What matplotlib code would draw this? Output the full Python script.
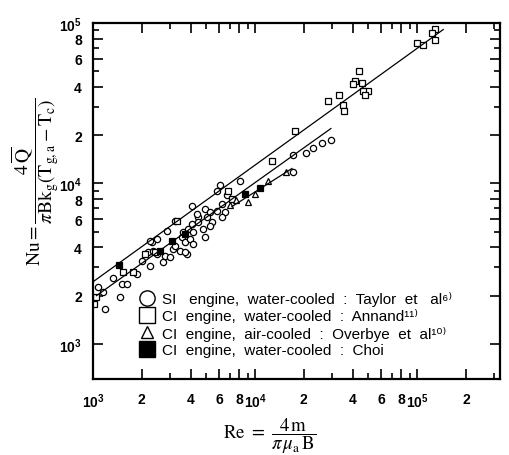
import matplotlib
matplotlib.use("Agg")
import matplotlib.pyplot as plt
from matplotlib.ticker import FixedLocator, FixedFormatter
from matplotlib.lines import Line2D

plt.rcParams["font.family"] = ["Liberation Sans", "DejaVu Sans"]
plt.rcParams["mathtext.fontset"] = "custom"
plt.rcParams["mathtext.rm"] = "Liberation Sans"
plt.rcParams["mathtext.bf"] = "Liberation Sans:bold"
plt.rcParams["mathtext.it"] = "Liberation Sans:italic"

# SI engine, water-cooled : Taylor et al
taylor_re = [1070, 1150, 1190, 1470, 1330, 1510, 1620, 1870, 2010, 2190, 2350, 2480,
             2250, 2310, 2480, 2700, 2780, 2990, 3120, 3210, 3440, 3800, 2860, 3210,
             3540, 3700, 3970, 4140, 3590, 3860, 4080, 4140, 4450, 4450, 4080, 4380,
             4910, 5050, 5270, 5430, 4770, 4910, 5270, 5830, 6080, 6710, 6250, 5830,
             6530, 6250, 8080, 17150, 20600, 22800, 25900, 29400, 17150, 2250, 3700]
taylor_nu = [2270, 2110, 1655, 1970, 2590, 2370, 2370, 2740, 3300, 3760, 3810, 3650,
             3070, 4340, 4530, 3260, 3550, 3500, 3920, 4100, 3810, 3650, 5090, 5870,
             4660, 4340, 4530, 4220, 5010, 5230, 5620, 5010, 6220, 5790, 7280, 6490,
             6980, 6220, 6680, 5790, 5230, 4660, 5470, 9040, 9720, 8420, 7500, 6780,
             6680, 6220, 10290, 14950, 15400, 16550, 17780, 18570, 11720, 4400, 3760]

# CI engine, water-cooled : Annand
annand_re = [1044, 1010, 1770, 1530, 2090, 3300, 6810, 7210, 12730, 17640, 28170, 32930,
             34860, 35360, 43750, 41330, 40180, 45670, 49710, 46320, 47650, 99650,
             108500, 128700, 123400, 128700, 2410]
annand_nu = [1970, 1780, 2820, 2820, 3650, 5870, 9040, 8060, 13730, 21150, 32540, 35460,
             30730, 28180, 50110, 43430, 41570, 42170, 37580, 37580, 35460, 74990,
             72820, 91730, 86600, 78310, 3760]

# CI engine, air-cooled : Overbye et al
overbye_re = [7630, 9050, 12020, 15520, 9990, 7000]
overbye_nu = [7940, 7720, 10290, 11720, 8540, 7390]

# CI engine, water-cooled : Choi
choi_re = [1450, 2590, 3700, 3070, 10730, 8670]
choi_nu = [3120, 3810, 4870, 4400, 9310, 8540]

# correlation lines
upper_re = [1000, 145000]
upper_nu = [2440, 91000]
lower_re = [1050, 29400]
lower_nu = [2000, 22000]
short_re = [7200, 16900]
short_nu = [7180, 12400]

x_ticks = [1e3, 2e3, 4e3, 6e3, 8e3, 1e4, 2e4, 4e4, 6e4, 8e4, 1e5, 2e5]
x_labels = [r"$\mathbf{10^{3}}$", "2", "4", "6", "8", r"$\mathbf{10^{4}}$",
            "2", "4", "6", "8", r"$\mathbf{10^{5}}$", "2"]
y_ticks = [1e3, 2e3, 4e3, 6e3, 8e3, 1e4, 2e4, 4e4, 6e4, 8e4, 1e5]
y_labels = [r"$\mathbf{10^{3}}$", "2", "4", "6", "8", r"$\mathbf{10^{4}}$",
            "2", "4", "6", "8", r"$\mathbf{10^{5}}$"]
minor_x = [3e3, 5e3, 7e3, 9e3, 3e4, 5e4, 7e4, 9e4, 3e5]
minor_y = [3e3, 5e3, 7e3, 9e3, 3e4, 5e4, 7e4, 9e4]

fig = plt.figure(figsize=(5.1, 4.56), dpi=100)
ax = fig.add_axes([93 / 510, 1 - 380 / 456, 407 / 510, 356 / 456])
ax.set_xscale("log")
ax.set_yscale("log")

pt = dict(ls="none", mec="black", mew=0.9, ms=4.5)
ax.plot(taylor_re, taylor_nu, marker="o", mfc="white", **pt)
ax.plot(annand_re, annand_nu, marker="s", mfc="white", **pt)
ax.plot(overbye_re, overbye_nu, marker="^", mfc="white", **pt)
ax.plot(choi_re, choi_nu, marker="s", mfc="black", **pt)

for xs, ys in [(upper_re, upper_nu), (lower_re, lower_nu), (short_re, short_nu)]:
    ax.plot(xs, ys, color="black", lw=0.9)

ax.set_xlim(1e3, 3.25e5)
ax.set_ylim(605, 1e5)

ax.xaxis.set_major_locator(FixedLocator(x_ticks))
ax.xaxis.set_major_formatter(FixedFormatter(x_labels))
ax.yaxis.set_major_locator(FixedLocator(y_ticks))
ax.yaxis.set_major_formatter(FixedFormatter(y_labels))
ax.xaxis.set_minor_locator(FixedLocator(minor_x))
ax.yaxis.set_minor_locator(FixedLocator(minor_y))
ax.xaxis.set_minor_formatter(FixedFormatter([]))
ax.yaxis.set_minor_formatter(FixedFormatter([]))
ax.tick_params(which="both", direction="in", top=True, right=True, width=1.2)
ax.tick_params(which="major", length=7)
ax.tick_params(which="minor", length=4)
ax.tick_params(axis="x", pad=9)
ax.tick_params(axis="y", pad=8)
for lab in ax.get_xticklabels() + ax.get_yticklabels():
    lab.set_fontsize(10)
    lab.set_fontweight("bold")
for sp in ax.spines.values():
    sp.set_linewidth(1.6)

handles = [
    Line2D([], [], ls="none", marker="o", ms=11, mfc="white", mec="black", mew=1.0),
    Line2D([], [], ls="none", marker="s", ms=11, mfc="white", mec="black", mew=1.0),
    Line2D([], [], ls="none", marker="^", ms=8, mfc="white", mec="black", mew=1.0),
    Line2D([], [], ls="none", marker="s", ms=11, mfc="black", mec="black", mew=1.0),
]
labels = [
    "SI   engine,  water-cooled  :  Taylor  et   al\u2076\u207e",
    "CI  engine,  water-cooled  :  Annand\u00b9\u00b9\u207e",
    "CI  engine,  air-cooled  :  Overbye  et  al\u00b9\u2070\u207e",
    "CI  engine,  water-cooled  :  Choi",
]
ax.legend(handles, labels, loc="upper left", bbox_to_anchor=(0.113, 0.247),
          frameon=False, fontsize=11.0, handlelength=1.0, handletextpad=0.5,
          labelspacing=0.15, borderpad=0, borderaxespad=0)

fig.text(35 / 510, 1 - 182 / 456,
         r"$\mathrm{Nu}=\dfrac{4\,\overline{\mathrm{Q}}}{\pi \mathrm{B}\mathrm{k}_{\mathrm{g}}(\mathrm{T}_{\mathrm{g,a}}-\mathrm{T}_{\mathrm{c}})}$",
         rotation=90, ha="center", va="center", fontsize=14, math_fontfamily="stix")
fig.text(270 / 510, 1 - 436 / 456,
         r"$\mathrm{Re}\ =\ \dfrac{4\,\mathrm{m}}{\pi\,\mu_{\mathrm{a}}\,\mathrm{B}}$",
         ha="center", va="center", fontsize=13.5, math_fontfamily="stix")

fig.savefig("out.png", dpi=100)
